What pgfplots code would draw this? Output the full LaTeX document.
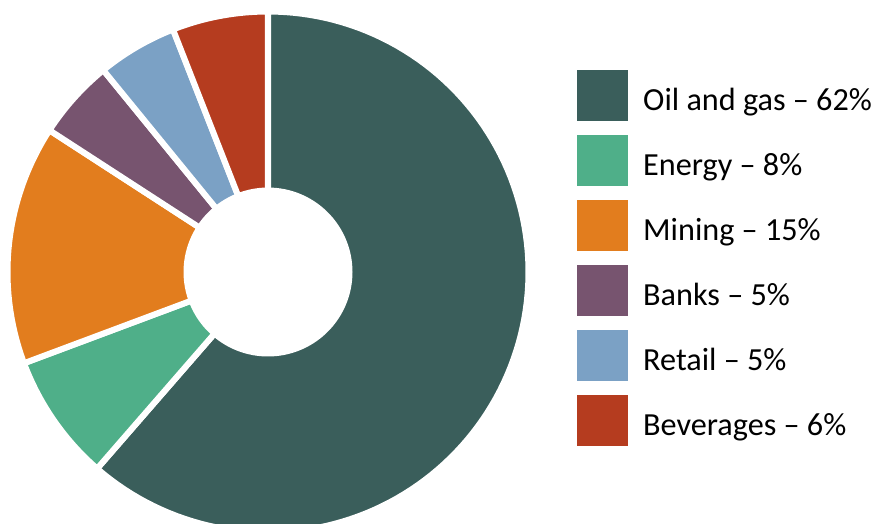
\documentclass[border=0pt]{standalone}
\usepackage{fontspec}
\setmainfont{Carlito}
\usepackage{pgfplots}
\pgfplotsset{compat=1.18}
\definecolor{cOil}{HTML}{3A5E5B}
\definecolor{cEnergy}{HTML}{4FAF89}
\definecolor{cMining}{HTML}{E27D1E}
\definecolor{cBanks}{HTML}{77546F}
\definecolor{cRetail}{HTML}{7BA1C5}
\definecolor{cBev}{HTML}{B53C1F}
% shares (%)
\def\vOil{62}\def\vEnergy{8}\def\vMining{15}\def\vBanks{5}\def\vRetail{5}\def\vBev{6}
\pgfmathsetmacro\total{\vOil+\vEnergy+\vMining+\vBanks+\vRetail+\vBev}
\pgfmathsetmacro\aA{90}
\pgfmathsetmacro\aB{\aA-\vOil/\total*360}
\pgfmathsetmacro\aC{\aB-\vEnergy/\total*360}
\pgfmathsetmacro\aD{\aC-\vMining/\total*360}
\pgfmathsetmacro\aE{\aD-\vBanks/\total*360}
\pgfmathsetmacro\aF{\aE-\vRetail/\total*360}
\pgfmathsetmacro\aG{\aF-\vBev/\total*360}
\def\cx{268}\def\cy{272}\def\R{260.5}\def\r{84.5}
\begin{document}
\begin{tikzpicture}
\begin{axis}[
  width=877pt, height=523pt, scale only axis,
  xmin=0, xmax=877, ymin=0, ymax=523, y dir=reverse,
  hide axis, clip=true,
  samples=120, variable=\t,
]
\addplot[fill=cOil, draw=white, line width=6pt, line join=round, domain=\aB:\aA] ({\cx+\R*cos(\t)},{\cy-\R*sin(\t)}) -- (axis cs:\cx,\cy) -- cycle;
\addplot[fill=cEnergy, draw=white, line width=6pt, line join=round, domain=\aC:\aB] ({\cx+\R*cos(\t)},{\cy-\R*sin(\t)}) -- (axis cs:\cx,\cy) -- cycle;
\addplot[fill=cMining, draw=white, line width=6pt, line join=round, domain=\aD:\aC] ({\cx+\R*cos(\t)},{\cy-\R*sin(\t)}) -- (axis cs:\cx,\cy) -- cycle;
\addplot[fill=cBanks, draw=white, line width=6pt, line join=round, domain=\aE:\aD] ({\cx+\R*cos(\t)},{\cy-\R*sin(\t)}) -- (axis cs:\cx,\cy) -- cycle;
\addplot[fill=cRetail, draw=white, line width=6pt, line join=round, domain=\aF:\aE] ({\cx+\R*cos(\t)},{\cy-\R*sin(\t)}) -- (axis cs:\cx,\cy) -- cycle;
\addplot[fill=cBev, draw=white, line width=6pt, line join=round, domain=\aG:\aF] ({\cx+\R*cos(\t)},{\cy-\R*sin(\t)}) -- (axis cs:\cx,\cy) -- cycle;
\addplot[fill=white, draw=none, domain=0:360] ({\cx+\r*cos(\t)},{\cy-\r*sin(\t)}) -- cycle;
% legend swatches
\addplot[fill=cOil, draw=none] coordinates {(577,70) (628,70) (628,121) (577,121)} -- cycle;
\addplot[fill=cEnergy, draw=none] coordinates {(577,135) (628,135) (628,186) (577,186)} -- cycle;
\addplot[fill=cMining, draw=none] coordinates {(577,200) (628,200) (628,251) (577,251)} -- cycle;
\addplot[fill=cBanks, draw=none] coordinates {(577,265) (628,265) (628,316) (577,316)} -- cycle;
\addplot[fill=cRetail, draw=none] coordinates {(577,330) (628,330) (628,381) (577,381)} -- cycle;
\addplot[fill=cBev, draw=none] coordinates {(577,395) (628,395) (628,446) (577,446)} -- cycle;
\begin{scope}[every node/.style={anchor=base west, inner sep=0pt, font=\fontsize{32.2}{38}\selectfont}]
\node at (axis cs:643,110) {Oil and gas – 62\%};
\node at (axis cs:643,175) {Energy – 8\%};
\node at (axis cs:643,240) {Mining – 15\%};
\node at (axis cs:643,305) {Banks – 5\%};
\node at (axis cs:643,370) {Retail – 5\%};
\node at (axis cs:643,435) {Beverages – 6\%};
\end{scope}
\end{axis}
\pgfresetboundingbox
\path (current axis.south west) rectangle (current axis.north east);
\end{tikzpicture}
\end{document}
